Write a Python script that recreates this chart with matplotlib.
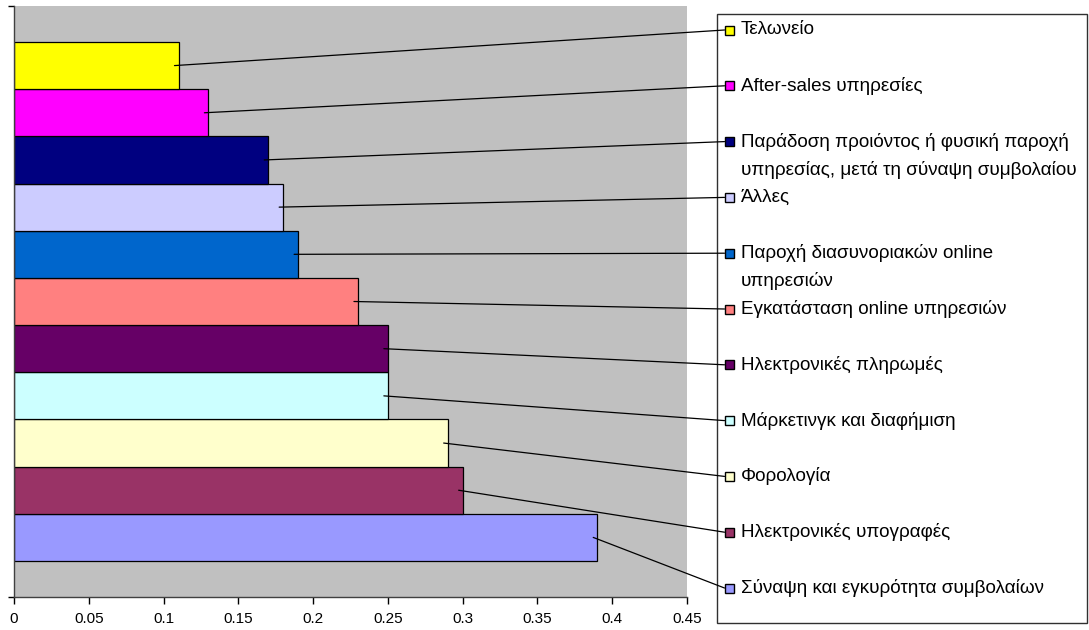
import matplotlib
matplotlib.use("Agg")
import matplotlib.pyplot as plt
from matplotlib.patches import Rectangle, ConnectionPatch

# ---- data (bottom to top) ----
categories = [
    "Σύναψη και εγκυρότητα συμβολαίων",
    "Ηλεκτρονικές υπογραφές",
    "Φορολογία",
    "Μάρκετινγκ και διαφήμιση",
    "Ηλεκτρονικές πληρωμές",
    "Εγκατάσταση online υπηρεσιών",
    "Παροχή διασυνοριακών online\nυπηρεσιών",
    "Άλλες",
    "Παράδοση προιόντος ή φυσική παροχή\nυπηρεσίας, μετά τη σύναψη συμβολαίου",
    "After-sales υπηρεσίες",
    "Τελωνείο",
]
values = [0.39, 0.30, 0.29, 0.25, 0.25, 0.23, 0.19, 0.18, 0.17, 0.13, 0.11]
colors = ["#9999FF", "#993366", "#FFFFCC", "#CCFFFF", "#660066", "#FF8080",
          "#0066CC", "#CCCCFF", "#000080", "#FF00FF", "#FFFF00"]
xticks = [0, 0.05, 0.1, 0.15, 0.2, 0.25, 0.3, 0.35, 0.4, 0.45]
xticklabels = ["0", "0.05", "0.1", "0.15", "0.2", "0.25", "0.3", "0.35", "0.4", "0.45"]

plt.rcParams["font.family"] = ["Liberation Sans", "DejaVu Sans"]

W, H = 1089, 630
fig = plt.figure(figsize=(W / 100, H / 100), dpi=100)
fig.patch.set_facecolor("white")

# plot area in pixels
L, R, T, B = 14, 687, 6, 597
ax = fig.add_axes([L / W, 1 - B / H, (R - L) / W, (B - T) / H])
ax.set_facecolor("#C0C0C0")

n = len(values)
ypos = list(range(n))
ax.barh(ypos, values, height=1.0, color=colors, edgecolor="black", linewidth=0.9, zorder=2)

margin = 0.763
ax.set_ylim(-0.5 - margin, n - 0.5 + margin)
ax.set_xlim(0, 0.45)
ax.set_xticks(xticks)
ax.set_xticklabels(xticklabels, fontsize=11)
ax.set_yticks([-0.5 - margin, n - 0.5 + margin])
ax.set_yticklabels([])
ax.tick_params(axis="x", direction="out", length=5, width=1, pad=6, colors="black")
ax.tick_params(axis="y", direction="out", length=4, width=1)
for s in ["top", "right"]:
    ax.spines[s].set_visible(False)
for s in ["left", "bottom"]:
    ax.spines[s].set_color("#404040")
    ax.spines[s].set_linewidth(1)

# overlay in pixel coordinates for legend
ov = fig.add_axes([0, 0, 1, 1], facecolor="none")
ov.set_xlim(0, W)
ov.set_ylim(H, 0)
ov.axis("off")

# legend box
ov.add_patch(Rectangle((717, 14), 370, 609, facecolor="white", edgecolor="#303030", lw=1, zorder=1))

top_y = 30
step = 55.8
mk = 9
for k in range(n):
    i = n - 1 - k  # top entry first
    y = top_y + k * step
    ov.add_patch(Rectangle((724.5, y - mk / 2), mk, mk, facecolor=colors[i],
                           edgecolor="black", lw=1, zorder=4))
    for j, line in enumerate(categories[i].split("\n")):
        ov.text(741, y + j * 28, line, fontsize=13.6, va="center", ha="left", zorder=4)
    con = ConnectionPatch(xyA=(values[i] - 0.0027, ypos[i]), coordsA=ax.transData,
                          xyB=(724.5, y), coordsB=ov.transData,
                          color="black", lw=0.9, zorder=5)
    fig.add_artist(con)

fig.savefig("out.png", dpi=100)
